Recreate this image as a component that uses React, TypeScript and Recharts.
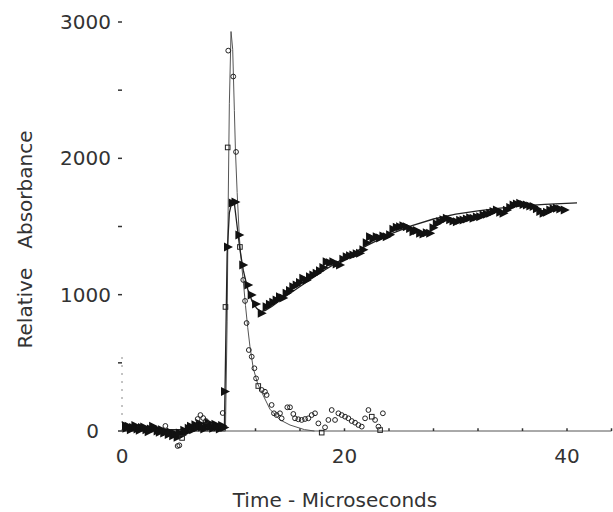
import React from 'react';
import { ComposedChart, Line, Scatter, XAxis, YAxis, ReferenceLine } from 'recharts';

const FONT = "'DejaVu Sans', 'Open Sans', sans-serif";

// Filled triangle series (time µs, relative absorbance)
const triangleData: [number, number][] = [
  [0, 30], [0.2, 45], [0.4, 20], [0.6, 35], [0.8, 10], [1.0, 25], [1.2, 40], [1.4, 15], [1.6, 5], [1.8, 25],
  [2.0, 30], [2.2, 10], [2.4, -5], [2.6, 15], [2.8, 35], [3.0, 20], [3.2, 0], [3.4, -10], [3.6, 10], [3.8, -15],
  [4.0, -5], [4.2, -25], [4.4, -10], [4.6, -35], [4.8, -20], [5.0, -45], [5.2, -15], [5.4, -30], [5.6, 5], [5.8, -10],
  [6.0, 20], [6.2, 35], [6.4, 10], [6.6, 45], [6.8, 25], [7.0, 55], [7.2, 30], [7.4, 15], [7.6, 40], [7.8, 60],
  [8.0, 35], [8.2, 20], [8.4, 50], [8.6, 30], [8.8, 15], [9.0, 40], [9.2, 25],
  [9.26, 290], [9.53, 1350], [9.95, 1673], [10.2, 1680], [10.55, 1438], [10.9, 1218], [11.35, 1071], [11.66, 998],
  [12.05, 932], [12.56, 863],
  [13.0, 912], [13.3, 930], [13.6, 945], [13.9, 961], [14.2, 985], [14.5, 975], [14.8, 1010], [15.1, 1030],
  [15.4, 1059], [15.7, 1071], [16.0, 1090], [16.3, 1120], [16.6, 1105], [16.9, 1132], [17.2, 1145], [17.5, 1157],
  [17.8, 1175], [18.1, 1200], [18.4, 1242], [18.7, 1235], [19.0, 1242], [19.3, 1225], [19.6, 1218], [19.9, 1260],
  [20.2, 1279], [20.5, 1285], [20.8, 1291], [21.1, 1300], [21.4, 1304], [21.7, 1330], [22.0, 1380], [22.3, 1425],
  [22.6, 1410], [22.9, 1425], [23.2, 1415], [23.5, 1430], [23.8, 1425], [24.1, 1440], [24.4, 1480], [24.7, 1495],
  [25.0, 1499], [25.3, 1505], [25.6, 1499], [25.9, 1485], [26.2, 1462], [26.5, 1470], [26.8, 1450], [27.1, 1445],
  [27.4, 1455], [27.7, 1450], [28.0, 1490], [28.3, 1520], [28.6, 1535], [28.9, 1550], [29.2, 1560], [29.5, 1550],
  [29.8, 1540], [30.1, 1535], [30.4, 1545], [30.7, 1548], [31.0, 1555], [31.3, 1565], [31.6, 1560], [31.9, 1570],
  [32.2, 1572], [32.5, 1585], [32.8, 1590], [33.1, 1597], [33.4, 1610], [33.7, 1621], [34.0, 1605], [34.3, 1597],
  [34.6, 1620], [34.9, 1640], [35.2, 1658], [35.5, 1665], [35.8, 1670], [36.1, 1662], [36.4, 1658], [36.7, 1650],
  [37.0, 1646], [37.3, 1630], [37.6, 1610], [37.9, 1597], [38.2, 1605], [38.5, 1621], [38.8, 1630], [39.1, 1634],
  [39.4, 1628], [39.8, 1621],
];

// Open circle series
const circleData: [number, number][] = [
  [3.9, 37], [5.0, -110], [5.15, -105], [6.8, 88], [7.05, 117], [7.3, 95], [7.55, 73], [9.05, 132],
  [9.55, 2790], [10.0, 2600], [10.25, 2047],
  [10.9, 1108], [11.06, 954], [11.2, 792], [11.4, 594], [11.66, 545], [11.9, 460], [12.05, 386], [12.56, 301],
  [12.85, 288], [13.0, 264], [13.45, 191], [13.66, 130], [13.9, 117], [14.2, 130], [14.35, 93], [14.86, 174],
  [15.1, 174], [15.4, 125], [15.55, 93], [15.85, 86], [16.15, 81], [16.45, 88], [16.75, 93], [17.05, 117],
  [17.35, 130], [17.65, 56], [18.25, 27], [18.55, 81], [18.85, 154], [19.15, 81], [19.45, 130], [19.75, 117],
  [20.05, 105], [20.35, 93], [20.65, 73], [20.95, 61], [21.25, 44], [21.55, 32], [21.85, 93], [22.15, 154],
  [22.75, 81], [23.05, 32], [23.45, 130],
];

// Open square series
const squareData: [number, number][] = [
  [5.4, -51], [9.3, 910], [9.5, 2080], [10.6, 1350], [12.25, 330], [17.95, -12], [22.45, 105], [23.2, 7],
];

// Fitted curve through the triangles
const triangleFit: [number, number][] = [
  [0, 10], [9.2, 10], [9.28, 400], [9.45, 1300], [9.65, 1600], [9.9, 1690], [10.1, 1670], [10.35, 1500],
  [10.6, 1330], [10.9, 1180], [11.3, 1040], [11.7, 950], [12.1, 900], [12.5, 875], [12.9, 885], [13.5, 915],
  [14.5, 975], [16, 1060], [18, 1170], [20, 1270], [22, 1360], [24, 1440], [26, 1505], [28, 1555], [30, 1590],
  [32, 1615], [34, 1635], [36, 1652], [38, 1663], [40.9, 1673],
];

// Fitted curve through the circles
const circleFit: [number, number][] = [
  [0, 0], [9.3, 0], [9.45, 800], [9.55, 1700], [9.65, 2400], [9.8, 2930], [9.95, 2800], [10.1, 2350],
  [10.2, 2050], [10.35, 1750], [10.55, 1420], [10.75, 1220], [10.9, 1100], [11.1, 920], [11.3, 760], [11.5, 620],
  [11.8, 460], [12.2, 345], [12.7, 260], [13.3, 160], [14.2, 82], [15.1, 44], [16.4, 10], [17.3, 0],
];

const xLabelTicks = [0, 20, 40];
const xMinorTicks = [4, 8, 12, 16, 20, 24, 28, 32, 36, 40, 44];
const yTicks = [0, 500, 1000, 1500, 2000, 2500, 3000];

const toObj = (arr: [number, number][]) => arr.map(([x, y]) => ({ x, y }));

const Triangle = (props: any) => {
  const { cx, cy } = props;
  if (cx == null || cy == null) return null;
  return <polygon points={`${cx - 4},${cy - 4.5} ${cx + 5},${cy} ${cx - 4},${cy + 4.5}`} fill="#111" />;
};

const Circle = (props: any) => {
  const { cx, cy } = props;
  if (cx == null || cy == null) return null;
  return <circle cx={cx} cy={cy} r={2.4} fill="none" stroke="#222" strokeWidth={1} />;
};

const Square = (props: any) => {
  const { cx, cy } = props;
  if (cx == null || cy == null) return null;
  return <rect x={cx - 2.3} y={cy - 2.3} width={4.6} height={4.6} fill="none" stroke="#222" strokeWidth={1} />;
};

const XTick = (props: any) => {
  const { x, y, payload } = props;
  return (
    <text x={x} y={y + 14} textAnchor="middle" fontSize={20} fill="#333" fontFamily={FONT}>
      {payload.value}
    </text>
  );
};

const YTick = (props: any) => {
  const { x, y, payload } = props;
  const v = payload.value;
  if (v % 1000 !== 0) return null;
  return (
    <text x={v === 0 ? x - 12 : x} y={y + 7} textAnchor="end" fontSize={20} fill="#333" fontFamily={FONT}>
      {v}
    </text>
  );
};

export default function App() {
  return (
    <div style={{ position: 'fixed', left: 0, top: 0, width: 613, height: 512, background: '#fff' }}>
      <ComposedChart width={613} height={512} margin={{ top: 22, right: 1.5, left: 0, bottom: 33 }}>
        <XAxis
          dataKey="x"
          type="number"
          domain={[0, 44]}
          ticks={xLabelTicks}
          axisLine={false}
          tickLine={false}
          tickSize={0}
          tickMargin={0}
          height={30}
          tick={<XTick />}
          allowDataOverflow
          label={{
            content: (p: any) => {
              const vb = p.viewBox || { x: 122, y: 449 };
              return (
                <text x={vb.x + 213} y={vb.y + 58} textAnchor="middle" fontSize={20} fill="#333" fontFamily={FONT}>
                  Time - Microseconds
                </text>
              );
            },
          }}
        />
        <YAxis
          type="number"
          domain={[-132, 3000]}
          ticks={yTicks}
          width={122}
          axisLine={false}
          tickLine={{ stroke: '#333', strokeWidth: 1.5 }}
          tickSize={4}
          tickMargin={7}
          tick={<YTick />}
          allowDataOverflow
          label={{
            content: (p: any) => {
              const vb = p.viewBox || { x: 0, y: 22, height: 427 };
              const cy = vb.y + 217.5;
              return (
                <text
                  x={32}
                  y={cy}
                  transform={`rotate(-90, 32, ${cy})`}
                  textAnchor="middle"
                  fontSize={20}
                  fill="#333"
                  fontFamily={FONT}
                >
                  {'Relative\u00A0\u00A0\u00A0Absorbance'}
                </text>
              );
            },
          }}
        />
        <ReferenceLine y={0} stroke="#555" strokeWidth={1} />
        <ReferenceLine segment={[{ x: 0, y: 0 }, { x: 0, y: 550 }]} stroke="#888" strokeDasharray="2 6" />
        {xMinorTicks.map((t) => (
          <ReferenceLine key={t} segment={[{ x: t, y: 0 }, { x: t, y: 20 }]} stroke="#333" strokeWidth={1.5} />
        ))}
        <Line
          data={toObj(circleFit)}
          dataKey="y"
          type="linear"
          dot={false}
          stroke="#555"
          strokeWidth={1}
          isAnimationActive={false}
        />
        <Line
          data={toObj(triangleFit)}
          dataKey="y"
          type="linear"
          dot={false}
          stroke="#222"
          strokeWidth={1.3}
          isAnimationActive={false}
        />
        <Scatter data={toObj(triangleData)} dataKey="y" shape={<Triangle />} isAnimationActive={false} />
        <Scatter data={toObj(circleData)} dataKey="y" shape={<Circle />} isAnimationActive={false} />
        <Scatter data={toObj(squareData)} dataKey="y" shape={<Square />} isAnimationActive={false} />
      </ComposedChart>
    </div>
  );
}
